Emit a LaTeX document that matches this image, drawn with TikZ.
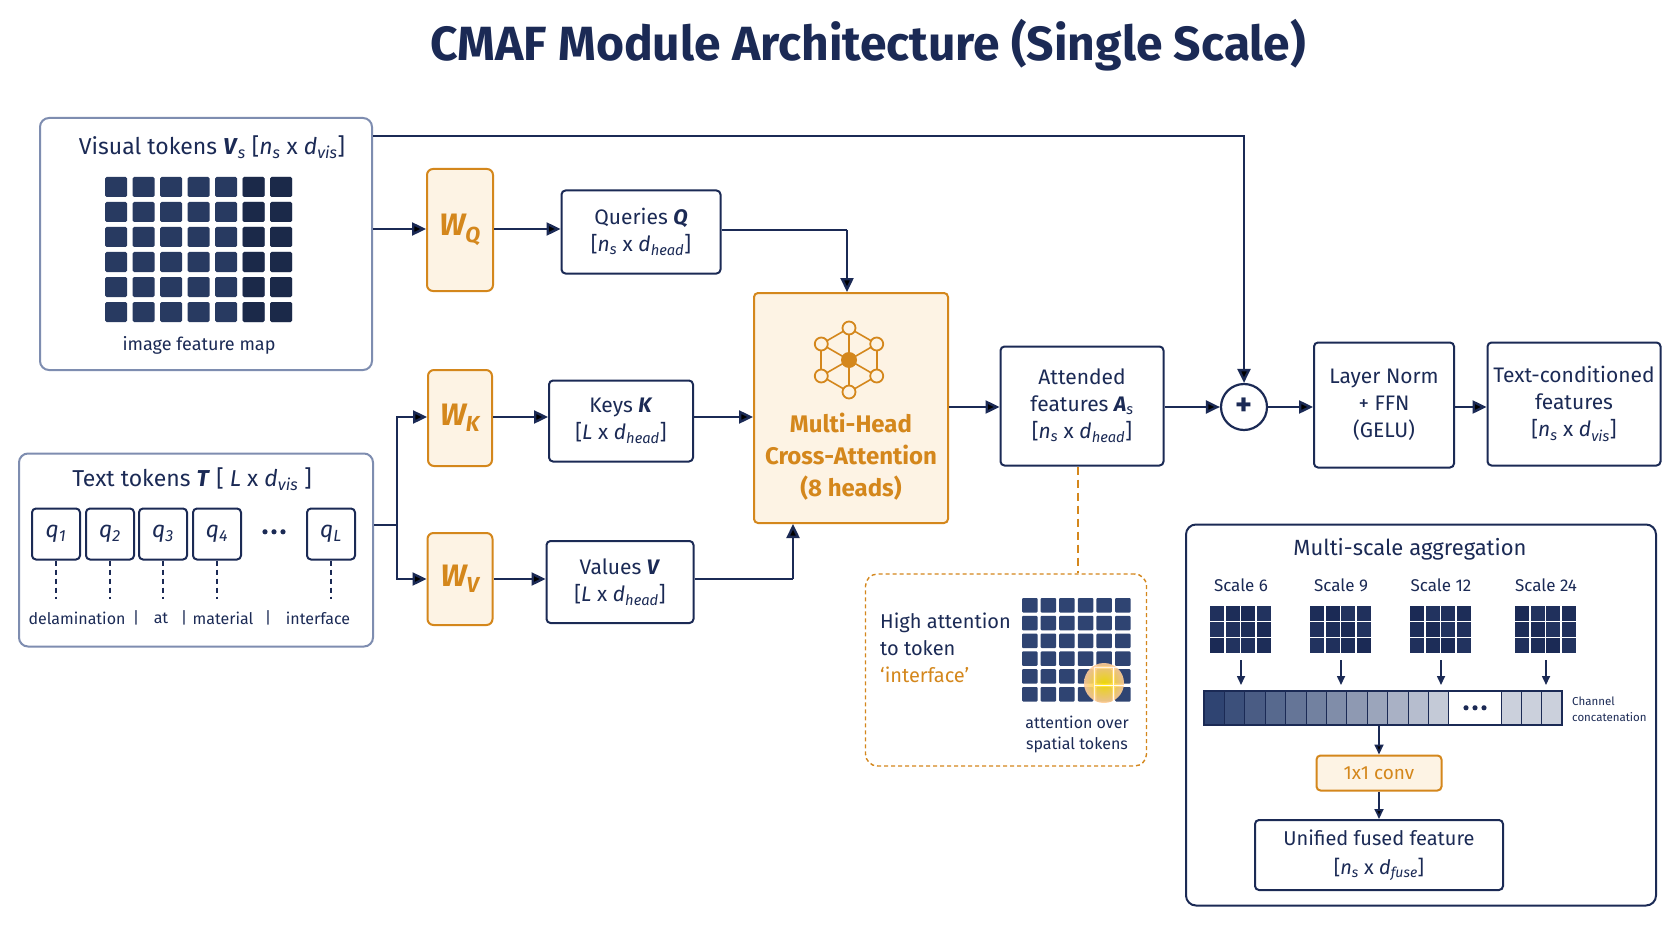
\documentclass[tikz,border=0pt]{standalone}
\usepackage{fontspec}
\setmainfont{Fira Sans}
\usetikzlibrary{arrows.meta,shapes.geometric,calc}
\definecolor{navy}{HTML}{1B2A55}
\definecolor{cell}{HTML}{2F4472}
\definecolor{org}{HTML}{D4871C}
\definecolor{orgfill}{HTML}{FDF3E4}
\definecolor{gbord}{HTML}{7E8DB0}
\newcommand{\sbi}[1]{\textsubscript{\textit{#1}}}
\newcommand{\bdots}{\tikz[baseline=-3pt]{\foreach \u in {0,1,2}\fill[navy] (\u*9pt,0) circle (2.6pt);}}
\tikzset{
 box/.style={draw=navy,line width=2pt,rounded corners=4pt,fill=white,align=center,font=\fontsize{21}{27}\selectfont,text=navy,inner sep=0pt},
 obox/.style={draw=org,line width=2pt,rounded corners=6pt,fill=orgfill,align=center,text=org,inner sep=0pt},
 gbox/.style={draw=gbord,line width=2pt,rounded corners=9pt,fill=white},
 arr/.style={draw=navy,line width=2.4pt,-{Triangle[length=14pt,width=13pt]}},
 ln/.style={draw=navy,line width=2.4pt},
 lbl/.style={text=navy,inner sep=0pt},
}
\begin{document}
\begin{tikzpicture}[x=1pt,y=-1pt]
\useasboundingbox (0,0) rectangle (1672,941);
\fill[white] (0,0) rectangle (1672,941);
\node[lbl,font=\fontsize{48}{54}\selectfont\bfseries] (title) at (868,45) {CMAF Module Architecture (Single Scale)};

% Visual tokens
\node[gbox,minimum width=332pt,minimum height=252pt] (vis) at (206,244) {};
\node[lbl,font=\fontsize{23}{26}\selectfont] (vist) at (212,147) {Visual tokens \textit{\textbf{V}}\sbi{s} [\textit{n}\sbi{s} x \textit{d}\sbi{vis}]};
\foreach \i in {0,...,6}{\foreach \j in {0,...,5}{
 \fill[cell!85!black,rounded corners=1.5pt] ({105+\i*27.5},{177+\j*25}) rectangle +(22,20);
 \ifnum\i>4 \fill[navy!60!black,opacity=0.5,rounded corners=1.5pt] ({105+\i*27.5},{177+\j*25}) rectangle +(22,20);\fi
}}
\node[lbl,font=\fontsize{18}{22}\selectfont] (ifm) at (199,345) {image feature map};

% Text tokens
\node[gbox,minimum width=354pt,minimum height=193pt] (txt) at (196,550) {};
\node[lbl,font=\fontsize{23}{26}\selectfont] (txtt) at (192,479) {Text tokens \textit{\textbf{T}} [ \textit{L} x \textit{d}\sbi{vis} ]};
\foreach \n/\x/\s in {q1/56/1,q2/110/2,q3/163/3,q4/217/4,qL/331/L}{
 \node[box,minimum width=48pt,minimum height=51pt,font=\fontsize{23}{26}\selectfont] (\n) at (\x,534) {\textit{q}\sbi{\s}};
 \draw[navy,line width=1.2pt,dash pattern=on 5pt off 4pt] (\n.south) -- +(0,38);
}
\node[lbl] (dots) at (274,532) {\bdots};
\foreach \t/\x in {delamination/77,|/136,at/161,|/184,material/223,|/268,interface/318}{
 \node[lbl,font=\fontsize{16}{20}\selectfont] at (\x,618) {\t};}

% W boxes
\node[obox,minimum width=66pt,minimum height=122pt,font=\fontsize{31}{34}\selectfont\bfseries\itshape] (wq) at (460,230) {W\textsubscript{Q}};
\node[obox,minimum width=64pt,minimum height=96pt,font=\fontsize{31}{34}\selectfont\bfseries\itshape] (wk) at (460,418) {W\textsubscript{K}};
\node[obox,minimum width=65pt,minimum height=92pt,font=\fontsize{31}{34}\selectfont\bfseries\itshape] (wv) at (460,579) {W\textsubscript{V}};

% Q K V
\node[box,minimum width=159pt,minimum height=83pt] (q) at (641,232) {Queries \textit{\textbf{Q}}\\{[\textit{n}\sbi{s} x \textit{d}\sbi{head}]}};
\node[box,minimum width=144pt,minimum height=81pt] (k) at (621,421) {Keys \textit{\textbf{K}}\\{[\textit{L} x \textit{d}\sbi{head}]}};
\node[box,minimum width=147pt,minimum height=82pt] (v) at (620,582) {Values \textit{\textbf{V}}\\{[\textit{L} x \textit{d}\sbi{head}]}};

% MHCA
\node[obox,rounded corners=4pt,minimum width=194pt,minimum height=230pt] (mh) at (851,408) {};
\node[text=org,align=center,font=\fontsize{24}{32}\selectfont\bfseries] (mht) at (851,457) {Multi-Head\\Cross-Attention\\(8 heads)};
\coordinate (ic) at (849,360);
\foreach \a in {30,90,...,330}{
 \draw[org,line width=1.6pt] (ic) -- ($(ic)+(\a:32)$);
 \draw[org,line width=1.6pt] ($(ic)+(\a:32)$) -- ($(ic)+(\a+60:32)$);}
\foreach \a in {30,90,...,330}{\draw[org,line width=1.8pt,fill=orgfill] ($(ic)+(\a:32)$) circle (6.5);}
\fill[org] (ic) circle (8);

% Attended etc
\node[box,minimum width=163pt,minimum height=119pt] (att) at (1082,406) {Attended\\features \textit{\textbf{A}}\sbi{s}\\{[\textit{n}\sbi{s} x \textit{d}\sbi{head}]}};
\node[draw=navy,line width=2.2pt,circle,minimum size=46pt,inner sep=0pt,fill=white,text=navy,font=\fontsize{32}{32}\selectfont\bfseries] (plus) at (1244,407) {+};
\node[box,minimum width=140pt,minimum height=125pt] (lnf) at (1384,405) {Layer Norm\\+ FFN\\(GELU)};
\node[box,minimum width=173pt,minimum height=123pt] (tc) at (1574,404) {Text-conditioned\\features\\{[\textit{n}\sbi{s} x \textit{d}\sbi{vis}]}};

% connectors
\draw[ln] (vis.east |- 0,136) coordinate (vt) -- (1244,136) coordinate (vc) -- ($(plus.north)+(0,-2)$);
\draw[arr] (vc) -- (plus.north);
\draw[arr] (vis.east |- 0,229) -- (wq.west |- 0,229);
\draw[arr] (wq.east |- 0,229) -- (q.west |- 0,229);
\draw[ln] (q.east |- 0,230) -- (847,230) coordinate (qc);
\draw[arr] (qc) -- (mh.north -| qc);
\draw[ln] (txt.east |- 0,525) -- (397,525) coordinate (tj);
\draw[arr] (tj) |- (wk.west |- 0,417);
\draw[arr] (tj) |- (wv.west |- 0,579);
\draw[arr] (wk.east |- 0,417) -- (k.west |- 0,417);
\draw[arr] (wv.east |- 0,579) -- (v.west |- 0,579);
\draw[arr] (k.east |- 0,417) -- (mh.west |- 0,417);
\draw[ln] (v.east |- 0,579) -- (793,579) coordinate (vc2);
\draw[arr] (vc2) -- (mh.south -| vc2);
\draw[arr] (mh.east |- 0,407) -- (att.west |- 0,407);
\draw[arr] (att.east |- 0,407) -- (plus.west);
\draw[arr] (plus.east) -- (lnf.west |- 0,407);
\draw[arr] (lnf.east |- 0,407) -- (tc.west |- 0,407);

% attention panel
\node[draw=org,line width=1.4pt,dash pattern=on 4pt off 3pt,rounded corners=12pt,minimum width=281pt,minimum height=192pt] (pan) at (1006,670) {};
\draw[org,line width=1.6pt,dash pattern=on 8pt off 5pt] (att.south -| 1078,0) -- (pan.north -| 1078,0);
\node[lbl,anchor=west,align=left,font=\fontsize{20}{27}\selectfont] (ht) at (880,648) {High attention\\to token\\\textcolor{org}{‘interface’}};
\foreach \i in {0,...,5}{\foreach \j in {0,...,5}{
 \fill[cell,rounded corners=1pt] ({1022+\i*18.6},{598+\j*17.8}) rectangle +(15.5,14.5);}}
\shade[inner color=yellow!80!orange,outer color=orange!40,opacity=0.9] (1104,683) circle (20);
\foreach \i in {4,5}{\foreach \j in {4,5}{\draw[white,line width=1pt,opacity=0.7] ({1022+\i*18.6-1.5},{598+\j*17.8-1.6}) rectangle +(18.6,17.8);}}
\node[lbl,align=center,font=\fontsize{16}{21}\selectfont] (ao) at (1077,734) {attention over\\spatial tokens};

% Multi-scale
\node[draw=navy,line width=2pt,rounded corners=10pt,minimum width=470pt,minimum height=381pt] (ms) at (1421,715) {};
\node[lbl,font=\fontsize{22}{25}\selectfont] (mst) at (1410,549) {Multi-scale aggregation};
\foreach \n/\x/\sc in {s6/1241/6,s9/1341/9,s12/1441/12,s24/1546/24}{
 \node[lbl,font=\fontsize{17}{20}\selectfont] (\n) at (\x,585) {Scale \sc};
 \foreach \i in {0,...,3}{\foreach \j in {0,...,2}{
  \pgfmathsetmacro{\m}{100-mod(\i*7+\j*5+\sc,4)*12}
  \fill[navy!\m!cell] ({\x-31+\i*15.6},{606+\j*16}) rectangle +(14,14.5);}}
 \coordinate (\n b) at (\x,654);
 \draw[navy,line width=1.6pt,-{Triangle[length=9pt,width=8pt]}] (\x,660) -- (\x,685);
}
\foreach \k in {0,...,11}{
 \pgfmathsetmacro{\m}{100-\k*6.5}
 \fill[cell!\m!white] ({1204+\k*20.4},691) rectangle +(20.4,34);
 \draw[navy,line width=0.8pt] ({1204+\k*20.4},691) rectangle +(20.4,34);}
\foreach \k in {0,...,2}{
 \fill[cell!25!white] ({1501+\k*20.4},691) rectangle +(20.4,34);
 \draw[navy,line width=0.8pt] ({1501+\k*20.4},691) rectangle +(20.4,34);}
\node[draw=navy,line width=1.6pt,minimum width=358pt,minimum height=34pt,inner sep=0pt] (bar) at (1383,708) {};
\node[lbl] at (1475,708) {\bdots};
\node[lbl,anchor=west,align=left,font=\fontsize{11.5}{16}\selectfont] (cc) at (1572,709) {Channel\\concatenation};
\node[obox,rounded corners=4pt,minimum width=125pt,minimum height=35pt,font=\fontsize{19}{22}\selectfont] (conv) at (1379,773) {1x1 conv};
\draw[arr,line width=1.8pt,-{Triangle[length=10pt,width=9pt]}] (bar.south -| conv) -- (conv.north);
\node[box,minimum width=248pt,minimum height=70pt,font=\fontsize{20}{29}\selectfont] (uf) at (1379,855) {Unified fused feature\\{[\textit{n}\sbi{s} x \textit{d}\sbi{fuse}]}};
\draw[arr,line width=1.8pt,-{Triangle[length=10pt,width=9pt]}] (conv.south) -- (uf.north);
\end{tikzpicture}
\end{document}
